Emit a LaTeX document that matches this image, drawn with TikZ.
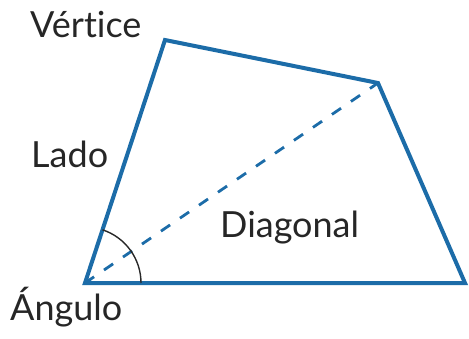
\documentclass[tikz,border=0pt]{standalone}
\usepackage{fontspec}
\setmainfont{Lato}[Ligatures=NoCommon]
\usepackage{xcolor}
\usetikzlibrary{positioning}
\definecolor{edgeCol}{RGB}{28,108,168}
\definecolor{arcCol}{RGB}{40,40,40}
\tikzset{
  side/.style={draw=edgeCol, line width=4pt, line join=miter},
  diag/.style={draw=edgeCol, line width=2.8pt, dash pattern=on 11pt off 12pt},
  angmark/.style={draw=arcCol, line width=1.4pt},
  lbl/.style={font=\fontsize{36}{40}\selectfont, text=black!85, inner sep=0pt, anchor=base west},
}

\begin{document}
\begin{tikzpicture}[x=1pt, y=1pt]
  \useasboundingbox (0,0) rectangle (469,338);
  % corners of the quadrilateral
  \coordinate (bl) at (85,55);
  \coordinate (tl) at (165,298);
  \coordinate (tr) at (378,255);
  \coordinate (br) at (465,55);

  % diagonal (dashed)
  \draw[diag] (bl) -- (tr);
  % sides
  \draw[side] (bl) -- (tl) -- (tr) -- (br) -- cycle;
  % angle mark
  \draw[angmark] (bl) ++(56,0) arc[start angle=0, end angle=71.8, radius=56pt];

  \node[lbl] (vert) at (30,300) {Vértice};
  \node[lbl] (lado) at (31,170) {Lado};
  \node[lbl] (diagl) at (220,101) {Diagonal};
  \node[lbl] (ang) at (10,18) {Ángulo};
\end{tikzpicture}
\end{document}
